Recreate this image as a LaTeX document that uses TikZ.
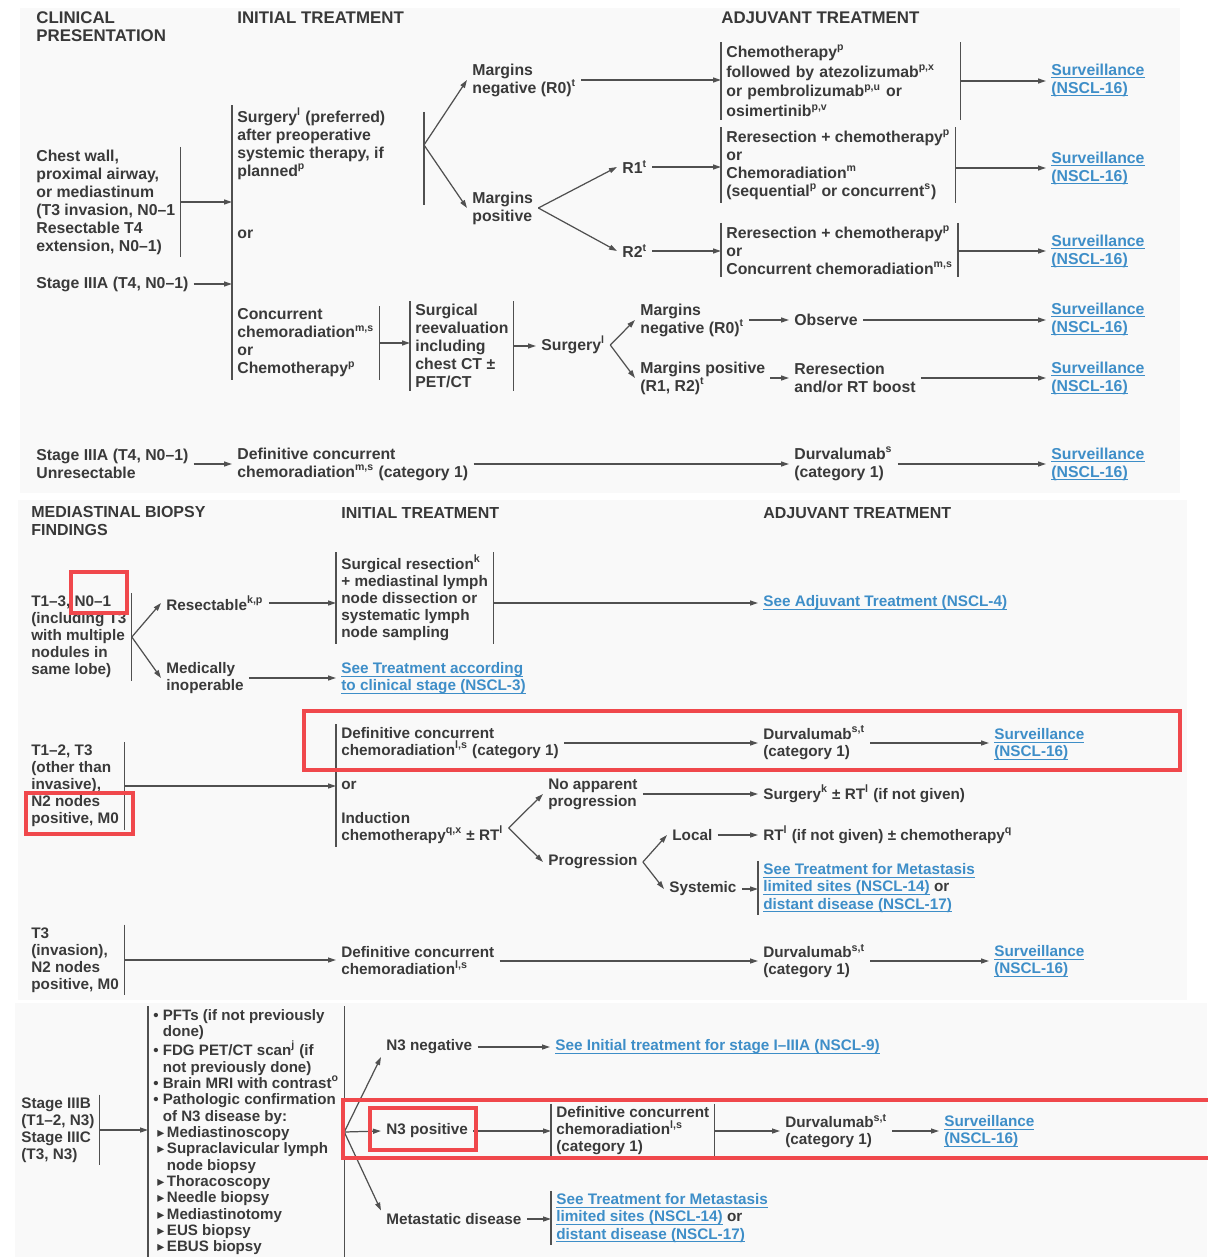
\documentclass[tikz,border=0pt]{standalone}
\usepackage{fontspec}
\setmainfont{Liberation Sans}
\newfontfamily\symfont{DejaVu Sans}
\usetikzlibrary{arrows.meta, positioning, calc}

\definecolor{ink}{RGB}{58,58,58}
\definecolor{wire}{RGB}{80,80,80}
\definecolor{linkblue}{RGB}{62,142,200}
\definecolor{markred}{RGB}{240,72,76}
\definecolor{panel}{RGB}{249,249,249}

\newcommand{\fnm}[1]{\textsuperscript{#1}}
\newcommand{\lnk}[1]{\textcolor{linkblue}{\setbox0\hbox{#1}\rlap{\rule[-1.7pt]{\wd0}{0.5pt}}\box0}}
\newcommand{\tri}{{\symfont\footnotesize ▸}\,}
\newcommand{\bul}{\textbullet\ }

\tikzset{
  txt/.style={font=\fontsize{9}{10.24}\selectfont\bfseries, text=ink, align=left,
    anchor=west, inner xsep=0.1cm, inner ysep=0.05cm},
  txts/.style={txt, font=\fontsize{8.7}{9.7}\selectfont\bfseries},
  hdr/.style={txt, font=\fontsize{9.6}{10.24}\selectfont\bfseries, text=black!78},
  hdrs/.style={hdr, font=\fontsize{9.1}{9.7}\selectfont\bfseries},
  arr/.style={draw=wire, line width=0.7pt, -{Triangle[length=0.16cm,width=0.1cm]}},
  brk/.style={draw=wire, line width=0.7pt},
  redbox/.style={draw=markred, line width=0.08cm},
}

\begin{document}
\begin{tikzpicture}[x=0.02cm, y=-0.02cm]
      \useasboundingbox (0,0) rectangle (1207,1257);
      \fill[panel] (20,8) rectangle (1180,493);
      \fill[panel] (18,500) rectangle (1187,1000);
      \fill[panel] (15,1003) rectangle (1207,1257);

      % Resectable T3 / T4 presentation
      \node[hdr] (hclin) at (31,27) {CLINICAL\\PRESENTATION};
      \node[hdr] (hinit) at (232,18) {INITIAL TREATMENT};
      \node[hdr] (hadj) at (716,18) {ADJUVANT TREATMENT};

      \node[txt] (chest) at (31,202) {Chest wall,\\proximal airway,\\or mediastinum\\(T3 invasion, N0–1\\Resectable T4\\extension, N0–1)};
      \node[txt] (st3a) at (31,284) {Stage IIIA (T4, N0–1)};
      \node[txt] (surg) at (232,144) {Surgery\fnm{l} (preferred)\\after preoperative\\systemic therapy, if\\planned\fnm{p}};
      \node[txt] (orA) at (232,234) {or};
      \node[txt] (conc) at (232,343) {Concurrent\\chemoradiation\fnm{m,s}\\or\\Chemotherapy\fnm{p}};
      \draw[brk] (chest.north east) -- (chest.south east);
      \draw[brk] (surg.north west) -- (conc.south west);
      \draw[arr] (chest.east) -- (chest.east -| surg.west);
      \draw[arr] (st3a.east) -- (st3a.east -| surg.west);

      \coordinate (fk1) at (424,145);
      \draw[brk] (fk1) ++(0,-33) -- ++(0,93);
      \node[txt] (mneg) at (467,80) {Margins\\negative (R0)\fnm{t}};
      \node[txt] (mpos) at (467,208) {Margins\\positive};
      \draw[arr] (fk1) -- (mneg.west);
      \draw[arr] (fk1) -- (mpos.west);

      \node[txt, text width=4.58cm] (adjc) at (721,81) {Chemotherapy\fnm{p}\\[1pt]followed by atezolizumab\fnm{p,x}\\[1pt]or pembrolizumab\fnm{p,u} or\\[1pt]osimertinib\fnm{p,v}};
      \node[txt] (sv1) at (1046,80) {\lnk{Surveillance}\\\lnk{(NSCL-16)}};
      \draw[brk] (adjc.north west) -- (adjc.south west) (adjc.north east) -- (adjc.south east);
      \draw[arr] (mneg.east) -- (mneg.east -| adjc.west);
      \draw[arr] (adjc.east) -- (adjc.east -| sv1.west);

      \node[txt] (r1) at (617,167) {R1\fnm{t}};
      \node[txt] (r2) at (617,251) {R2\fnm{t}};
      \draw[arr] (mpos.east) -- (r1.west);
      \draw[arr] (mpos.east) -- (r2.west);
      \node[txt] (rr1) at (721,165) {Reresection + chemotherapy\fnm{p}\\or\\Chemoradiation\fnm{m}\\(sequential\fnm{p} or concurrent\fnm{s})};
      \node[txt] (rr2) at (721,250) {Reresection + chemotherapy\fnm{p}\\or\\Concurrent chemoradiation\fnm{m,s}};
      \node[txt] (sv2) at (1046,168) {\lnk{Surveillance}\\\lnk{(NSCL-16)}};
      \node[txt] (sv3) at (1046,251) {\lnk{Surveillance}\\\lnk{(NSCL-16)}};
      \draw[brk] (rr1.north west) -- (rr1.south west) (rr1.north east) -- (rr1.south east);
      \draw[brk] (rr2.north west) -- (rr2.south west) (rr2.north east) -- (rr2.south east);
      \draw[arr] (r1.east) -- (r1.east -| rr1.west);
      \draw[arr] (r2.east) -- (r2.east -| rr2.west);
      \draw[arr] (sv2.west -| rr1.east) -- (sv2.west);
      \draw[arr] (sv3.west -| rr2.east) -- (sv3.west);

      \node[txt] (reev) at (410,346) {Surgical\\reevaluation\\including\\chest CT ±\\PET/CT};
      \draw[brk] (conc.north east) -- (conc.south east);
      \draw[brk] (reev.north west) -- (reev.south west) (reev.north east) -- (reev.south east);
      \draw[arr] (conc.east) -- (conc.east -| reev.west);
      \node[txt] (surgl) at (536,345) {Surgery\fnm{l}};
      \draw[arr] (reev.east) -- (reev.east -| surgl.west);
      \node[txt] (mneg2) at (635,320) {Margins\\negative (R0)\fnm{t}};
      \node[txt] (mpos2) at (635,378) {Margins positive\\(R1, R2)\fnm{t}};
      \draw[arr] (surgl.east) -- (mneg2.west);
      \draw[arr] (surgl.east) -- (mpos2.west);
      \node[txt] (obs) at (789,320) {Observe};
      \node[txt] (rrt) at (789,378) {Reresection\\and/or RT boost};
      \node[txt] (sv4) at (1046,319) {\lnk{Surveillance}\\\lnk{(NSCL-16)}};
      \node[txt] (sv5) at (1046,378) {\lnk{Surveillance}\\\lnk{(NSCL-16)}};
      \draw[arr] (mneg2.east) -- (mneg2.east -| obs.west);
      \draw[arr] (obs.east) -- (obs.east -| sv4.west);
      \draw[arr] (mpos2.east) -- (mpos2.east -| rrt.west);
      \draw[arr] (rrt.east) -- (rrt.east -| sv5.west);

      % Unresectable
      \node[txt] (st3u) at (31,464) {Stage IIIA (T4, N0–1)\\Unresectable};
      \node[txt] (defA) at (232,464) {Definitive concurrent\\chemoradiation\fnm{m,s} (category 1)};
      \node[txt] (durA) at (789,464) {Durvalumab\fnm{s}\\(category 1)};
      \node[txt] (sv6) at (1046,464) {\lnk{Surveillance}\\\lnk{(NSCL-16)}};
      \draw[arr] (st3u.east) -- (st3u.east -| defA.west);
      \draw[arr] (defA.east) -- (defA.east -| durA.west);
      \draw[arr] (durA.east) -- (durA.east -| sv6.west);

      % Mediastinal biopsy findings
      \node[hdrs] (hmed) at (26,521) {MEDIASTINAL BIOPSY\\FINDINGS};
      \node[hdrs] (hinit2) at (336,513) {INITIAL TREATMENT};
      \node[hdrs] (hadj2) at (758,513) {ADJUVANT TREATMENT};

      \node[txts] (t13) at (26,637) {T1–3, N0–1\\(including T3\\with multiple\\nodules in\\same lobe)};
      \draw[brk] (t13.north east) -- (t13.south east);
      \node[txts] (resk) at (161,603) {Resectable\fnm{k,p}};
      \node[txts] (medi) at (161,678) {Medically\\inoperable};
      \draw[arr] (t13.east) -- (resk.west);
      \draw[arr] (t13.east) -- (medi.west);
      \node[txts] (sres) at (336,598) {Surgical resection\fnm{k}\\+ mediastinal lymph\\node dissection or\\systematic lymph\\node sampling};
      \draw[brk] (sres.north west) -- (sres.south west) (sres.north east) -- (sres.south east);
      \draw[arr] (resk.east) -- (resk.east -| sres.west);
      \node[txts] (seeadj) at (758,603) {\lnk{See Adjuvant Treatment (NSCL-4)}};
      \draw[arr] (seeadj.west -| sres.east) -- (seeadj.west);
      \node[txts] (seecs) at (336,678) {\lnk{See Treatment according}\\\lnk{to clinical stage (NSCL-3)}};
      \draw[arr] (medi.east) -- (medi.east -| seecs.west);

      \node[txts] (t12) at (26,786) {T1–2, T3\\(other than\\invasive),\\N2 nodes\\positive, M0};
      \draw[brk] (t12.north east) -- (t12.south east);
      \node[txts] (defB) at (336,743) {Definitive concurrent\\chemoradiation\fnm{l,s} (category 1)};
      \node[txts] (orB) at (336,785) {or};
      \node[txts] (indB) at (336,828) {Induction\\chemotherapy\fnm{q,x} ± RT\fnm{l}};
      \draw[brk] (defB.north west) -- (indB.south west);
      \draw[arr] (t12.east) -- (t12.east -| orB.west);
      \node[txts] (durB) at (758,743) {Durvalumab\fnm{s,t}\\(category 1)};
      \node[txts] (svB) at (989,744) {\lnk{Surveillance}\\\lnk{(NSCL-16)}};
      \draw[arr] (defB.east) -- (defB.east -| durB.west);
      \draw[arr] (durB.east) -- (durB.east -| svB.west);
      \node[txts] (noprog) at (543,794) {No apparent\\progression};
      \node[txts] (prog) at (543,862) {Progression};
      \draw[arr] (indB.east) -- (noprog.west);
      \draw[arr] (indB.east) -- (prog.west);
      \node[txts] (surgk) at (758,794) {Surgery\fnm{k} ± RT\fnm{l} (if not given)};
      \draw[arr] (noprog.east) -- (noprog.east -| surgk.west);
      \node[txts] (local) at (667,835) {Local};
      \node[txts] (syst) at (664,889) {Systemic};
      \draw[arr] (prog.east) -- (local.west);
      \draw[arr] (prog.east) -- (syst.west);
      \node[txts] (rtl) at (758,835) {RT\fnm{l} (if not given) ± chemotherapy\fnm{q}};
      \draw[arr] (local.east) -- (local.east -| rtl.west);
      \node[txts] (metaA) at (758,888) {\lnk{See Treatment for Metastasis}\\\lnk{limited sites (NSCL-14)} or\\\lnk{distant disease (NSCL-17)}};
      \draw[brk] (metaA.north west) -- (metaA.south west);
      \draw[arr] (syst.east) -- (syst.east -| metaA.west);

      \node[txts] (t3n) at (26,960) {T3\\(invasion),\\N2 nodes\\positive, M0};
      \draw[brk] (t3n.north east) -- (t3n.south east);
      \node[txts] (defC) at (336,961) {Definitive concurrent\\chemoradiation\fnm{l,s}};
      \node[txts] (durC) at (758,961) {Durvalumab\fnm{s,t}\\(category 1)};
      \node[txts] (svC) at (989,961) {\lnk{Surveillance}\\\lnk{(NSCL-16)}};
      \draw[arr] (t3n.east) -- (t3n.east -| defC.west);
      \draw[arr] (defC.east) -- (defC.east -| durC.west);
      \draw[arr] (durC.east) -- (durC.east -| svC.west);

      % Stage IIIB / IIIC
      \node[txts] (st3b) at (16,1130) {Stage IIIB\\(T1–2, N3)\\Stage IIIC\\(T3, N3)};
      \draw[brk] (st3b.north east) -- (st3b.south east);
      \node[txts, font=\fontsize{8.6}{9.3}\selectfont\bfseries] (wkup) at (148,1132) {\bul PFTs (if not previously\\
        \phantom{\bul}done)\\
        \bul FDG PET/CT scan\fnm{j} (if\\
        \phantom{\bul}not previously done)\\
        \bul Brain MRI with contrast\fnm{o}\\
        \bul Pathologic confirmation\\
        \phantom{\bul}of N3 disease by:\\
        \hspace{0.08cm}\tri Mediastinoscopy\\
        \hspace{0.08cm}\tri Supraclavicular lymph\\
        \hspace{0.08cm}\phantom{\tri}node biopsy\\
        \hspace{0.08cm}\tri Thoracoscopy\\
        \hspace{0.08cm}\tri Needle biopsy\\
        \hspace{0.08cm}\tri Mediastinotomy\\
        \hspace{0.08cm}\tri EUS biopsy\\
        \hspace{0.08cm}\tri EBUS biopsy};
      \draw[brk] (wkup.north west) -- (wkup.south west) (wkup.north east) -- (wkup.south east);
      \draw[arr] (st3b.east) -- (st3b.east -| wkup.west);

      \node[txts] (n3neg) at (381,1047) {N3 negative};
      \node[txts] (n3pos) at (381,1131) {N3 positive};
      \node[txts] (metd) at (381,1219) {Metastatic disease};
      \draw[arr] (wkup.east) -- (n3neg.south west);
      \draw[arr] (wkup.east) -- (n3pos.west);
      \draw[arr] (wkup.east) -- (metd.north west);
      \node[txts] (seeinit) at (550,1047) {\lnk{See Initial treatment for stage I–IIIA (NSCL-9)}};
      \draw[arr] (n3neg.east) -- (seeinit.west);
      \node[txts] (defD) at (551,1131) {Definitive concurrent\\chemoradiation\fnm{l,s}\\(category 1)};
      \draw[brk] (defD.north west) -- (defD.south west) (defD.north east) -- (defD.south east);
      \draw[arr] (n3pos.east) -- (n3pos.east -| defD.west);
      \node[txts] (durD) at (780,1131) {Durvalumab\fnm{s,t}\\(category 1)};
      \node[txts] (svD) at (939,1131) {\lnk{Surveillance}\\\lnk{(NSCL-16)}};
      \draw[arr] (defD.east) -- (defD.east -| durD.west);
      \draw[arr] (durD.east) -- (durD.east -| svD.west);
      \node[txts] (metaB) at (551,1218) {\lnk{See Treatment for Metastasis}\\\lnk{limited sites (NSCL-14)} or\\\lnk{distant disease (NSCL-17)}};
      \draw[brk] (metaB.north west) -- (metaB.south west);
      \draw[arr] (metd.east) -- (metd.east -| metaB.west);

      % highlight marks
      \draw[redbox] (71,572) rectangle (127,613);
      \draw[redbox] (304,711) rectangle (1180,770);
      \draw[redbox] (26,793) rectangle (133,834);
      \draw[redbox] (343,1100) rectangle (1215,1158);
      \draw[redbox] (370,1108) rectangle (476,1150);
    \end{tikzpicture}
\end{document}
